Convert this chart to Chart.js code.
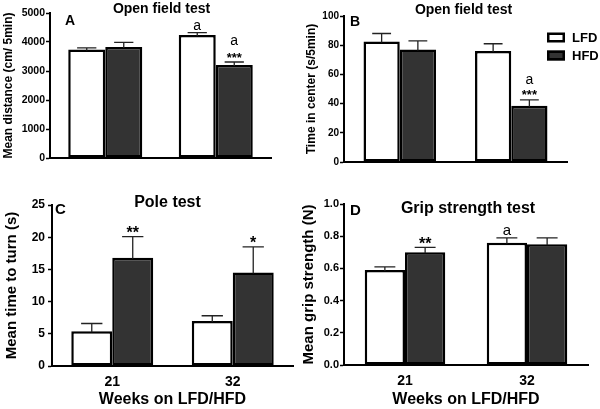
<!DOCTYPE html>
<html><head><meta charset="utf-8">
<script src="https://cdn.jsdelivr.net/npm/chart.js@4.4.1/dist/chart.umd.min.js"></script>
<style>
html,body{margin:0;padding:0;background:#fff;width:600px;height:409px;overflow:hidden}
canvas{position:absolute;display:block}
</style></head><body>
<canvas id="cA" width="300" height="190" style="left:0;top:0"></canvas>
<canvas id="cB" width="300" height="190" style="left:300px;top:0"></canvas>
<canvas id="cC" width="300" height="219" style="left:0;top:190px"></canvas>
<canvas id="cD" width="300" height="219" style="left:300px;top:190px"></canvas>
<script>
// ---- data ----
const weeks = ['21', '32'];
const seriesNames = ['LFD', 'HFD'];

const distLFD = [3740, 4240];
const distLFDerr = [60, 80];
const distHFD = [3830, 3210];
const distHFDerr = [160, 100];
const distLFDmarks = [[], ['a']];
const distHFDmarks = [[], ['***', 'a']];
const distTicks = [0, 1000, 2000, 3000, 4000, 5000];

const centerLFD = [82.5, 76];
const centerLFDerr = [5.5, 5];
const centerHFD = [77, 38.5];
const centerHFDerr = [6, 4];
const centerLFDmarks = [[], []];
const centerHFDmarks = [[], ['***', 'a']];
const centerTicks = [0, 20, 40, 60, 80, 100];

const poleLFD = [5.4, 7.0];
const poleLFDerr = [1.2, 0.8];
const poleHFD = [16.8, 14.5];
const poleHFDerr = [3.3, 4.0];
const poleLFDmarks = [[], []];
const poleHFDmarks = [['**'], ['*']];
const poleTicks = [0, 5, 10, 15, 20, 25];

const gripLFD = [0.59, 0.76];
const gripLFDerr = [0.02, 0.03];
const gripHFD = [0.70, 0.75];
const gripHFDerr = [0.03, 0.04];
const gripLFDmarks = [[], ['a']];
const gripHFDmarks = [['**'], []];
const gripTicks = [0, 0.2, 0.4, 0.6, 0.8, 1.0];

// ---- rendering ----
const FONT = "'Liberation Sans', Arial, Helvetica, sans-serif";
Chart.defaults.font.family = FONT;
Chart.defaults.color = '#000';

const errorBars = {
  id: 'errorBars',
  afterDatasetsDraw(chart, args, o) {
    const ctx = chart.ctx, y = chart.scales.y;
    chart.data.datasets.forEach((ds, i) => {
      const meta = chart.getDatasetMeta(i);
      meta.data.forEach((bar, j) => {
        const top = y.getPixelForValue(ds.data[j] + ds.errors[j]);
        const half = bar.width * 0.26;
        ctx.save();
        ctx.strokeStyle = '#222'; ctx.lineWidth = 1.3;
        ctx.beginPath();
        ctx.moveTo(bar.x, bar.y + 1); ctx.lineTo(bar.x, top);
        ctx.moveTo(bar.x - half, top); ctx.lineTo(bar.x + half, top);
        ctx.stroke();
        let cy = top - o.markGap;
        (ds.marks[j] || []).forEach(t => {
          const star = t.indexOf('*') >= 0;
          ctx.font = (star ? 'bold ' + o.starSize : 'normal ' + o.aSize) + 'px ' + FONT;
          const m = ctx.measureText(t);
          const base = cy + (m.actualBoundingBoxAscent - m.actualBoundingBoxDescent) / 2;
          ctx.textAlign = 'center'; ctx.textBaseline = 'alphabetic'; ctx.fillStyle = '#000';
          ctx.fillText(t, bar.x, base);
          cy -= o.lineStep;
        });
        ctx.restore();
      });
    });
  }
};

const panelText = {
  id: 'panelText',
  afterDraw(chart, args, o) {
    const ctx = chart.ctx, a = chart.chartArea;
    ctx.save();
    ctx.fillStyle = '#000';
    ctx.font = 'bold ' + o.titleSize + 'px ' + FONT;
    ctx.textAlign = 'center'; ctx.textBaseline = 'middle';
    ctx.fillText(o.title, (a.left + a.right) / 2 + o.titleDx, o.titleY);
    ctx.font = 'bold ' + o.letterSize + 'px ' + FONT;
    ctx.textAlign = 'left'; ctx.textBaseline = 'top';
    ctx.fillText(o.letter, a.left + o.letterDx, a.top + o.letterDy);
    if (o.legend) {
      const lx = a.right - 20;
      let ly = a.top + 16.5;
      chart.data.datasets.forEach(ds => {
        ctx.fillStyle = ds.backgroundColor;
        ctx.fillRect(lx, ly, 18, 10);
        ctx.strokeStyle = '#000'; ctx.lineWidth = 2.5;
        ctx.strokeRect(lx + 1.25, ly + 1.25, 15.5, 7.5);
        ctx.fillStyle = '#000';
        ctx.font = 'bold 13px ' + FONT;
        ctx.textBaseline = 'middle';
        ctx.fillText(ds.label, lx + 25, ly + 5.5);
        ly += 18;
      });
    }
    ctx.restore();
  }
};

function makeChart(id, c) {
  const ds = (k, data, err, marks, col) => ({
    label: seriesNames[k], data: data, errors: err, marks: marks,
    backgroundColor: col, borderColor: '#000', borderWidth: 2.5, borderSkipped: false,
    categoryPercentage: c.cat, barPercentage: 1
  });
  return new Chart(document.getElementById(id), {
    type: 'bar',
    data: { labels: weeks, datasets: [
      ds(0, c.lfd, c.lfdErr, c.lfdMarks, '#ffffff'),
      ds(1, c.hfd, c.hfdErr, c.hfdMarks, '#333333')
    ]},
    options: {
      responsive: false, animation: false, devicePixelRatio: 1,
      layout: { padding: c.pad },
      events: [],
      plugins: {
        legend: { display: false }, tooltip: { enabled: false },
        panelText: c.text,
        errorBars: c.marksOpt
      },
      scales: {
        x: {
          ticks: { display: c.xTicks, font: { size: 14, weight: 'bold' }, color: '#000', padding: 8 },
          grid: { display: true, drawOnChartArea: false, drawTicks: false },
          border: { display: true, color: '#000', width: 2 },
          title: { display: !!c.xTitle, text: c.xTitle || '', font: { size: 16, weight: 'bold' }, color: '#000', padding: { top: 0, bottom: 0 } },
          afterFit(s) { s.height = c.xH; }
        },
        y: {
          min: c.ticks[0], max: c.ticks[c.ticks.length - 1],
          afterBuildTicks(s) { s.ticks = c.ticks.map(v => ({ value: v })); },
          ticks: { font: { size: c.yTickSize, weight: 'bold' }, color: '#000', padding: c.yTickPad,
                   callback: v => c.fmt(v) },
          grid: { display: true, drawOnChartArea: false, drawTicks: true, tickLength: 4, tickColor: '#000', tickWidth: 1.5 },
          border: { display: true, color: '#000', width: 2 },
          title: { display: true, text: c.yTitle, font: { size: c.yTitleSize, weight: 'bold' }, color: '#000',
                   padding: { top: c.yTitlePad, bottom: 0 } },
          afterFit(s) { s.width = c.yW; }
        }
      }
    },
    plugins: [errorBars, panelText]
  });
}

makeChart('cA', {
  lfd: distLFD, lfdErr: distLFDerr, lfdMarks: distLFDmarks,
  hfd: distHFD, hfdErr: distHFDerr, hfdMarks: distHFDmarks,
  ticks: distTicks, fmt: v => String(v),
  pad: { top: 13, right: 29, bottom: 0, left: 0 }, yW: 50, xH: 32, cat: 0.67,
  xTicks: false, xTitle: '',
  yTitle: 'Mean distance (cm/ 5min)', yTitleSize: 12, yTitlePad: 1, yTickSize: 10.5, yTickPad: 1,
  text: { title: 'Open field test', titleSize: 14, titleDx: 1, titleY: 9.5, letter: 'A', letterSize: 14, letterDx: 15, letterDy: 1 },
  marksOpt: { markGap: 7, lineStep: 14, starSize: 13, aSize: 14 }
});

makeChart('cB', {
  lfd: centerLFD, lfdErr: centerLFDerr, lfdMarks: centerLFDmarks,
  hfd: centerHFD, hfdErr: centerHFDerr, hfdMarks: centerHFDmarks,
  ticks: centerTicks, fmt: v => String(v),
  pad: { top: 16, right: 33, bottom: 0, left: 0 }, yW: 44, xH: 28, cat: 0.65,
  xTicks: false, xTitle: '',
  yTitle: 'Time in center (s/5min)', yTitleSize: 12, yTitlePad: 4, yTickSize: 10, yTickPad: 1,
  text: { title: 'Open field test', titleSize: 14, titleDx: 8, titleY: 10, letter: 'B', letterSize: 14, letterDx: 6, letterDy: -1, legend: true },
  marksOpt: { markGap: 7, lineStep: 12.5, starSize: 13, aSize: 14 }
});

makeChart('cC', {
  lfd: poleLFD, lfdErr: poleLFDerr, lfdMarks: poleLFDmarks,
  hfd: poleHFD, hfdErr: poleHFDerr, hfdMarks: poleHFDmarks,
  ticks: poleTicks, fmt: v => String(v),
  pad: { top: 15, right: 7, bottom: 0, left: 0 }, yW: 52, xH: 43, cat: 0.68,
  xTicks: true, xTitle: 'Weeks on LFD/HFD',
  yTitle: 'Mean time to turn (s)', yTitleSize: 15, yTitlePad: 3, yTickSize: 12, yTickPad: 3,
  text: { title: 'Pole test', titleSize: 16, titleDx: -5, titleY: 12.5, letter: 'C', letterSize: 15, letterDx: 3, letterDy: -3 },
  marksOpt: { markGap: 7, lineStep: 14, starSize: 16, aSize: 15 }
});

makeChart('cD', {
  lfd: gripLFD, lfdErr: gripLFDerr, lfdMarks: gripLFDmarks,
  hfd: gripHFD, hfdErr: gripHFDerr, hfdMarks: gripHFDmarks,
  ticks: gripTicks, fmt: v => v.toFixed(1),
  pad: { top: 14, right: 12, bottom: 0, left: 0 }, yW: 44, xH: 44, cat: 0.66,
  xTicks: true, xTitle: 'Weeks on LFD/HFD',
  yTitle: 'Mean grip strength (N)', yTitleSize: 15, yTitlePad: 0, yTickSize: 11, yTickPad: 1,
  text: { title: 'Grip strength test', titleSize: 16, titleDx: 2, titleY: 18.5, letter: 'D', letterSize: 15, letterDx: 6, letterDy: -1 },
  marksOpt: { markGap: 6.5, lineStep: 14, starSize: 16, aSize: 15 }
});
</script>
</body></html>
